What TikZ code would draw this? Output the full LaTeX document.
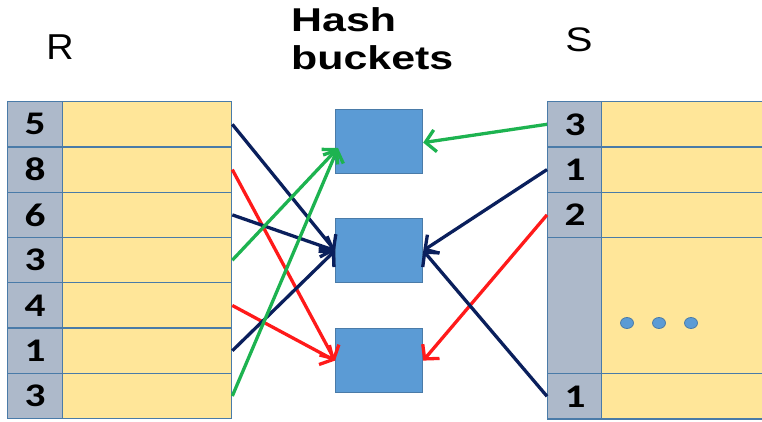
\documentclass[tikz,border=0pt]{standalone}
\usepackage{fontspec}
\setmainfont{Liberation Sans}
\newfontfamily\carlito{Carlito}
\usetikzlibrary{arrows.meta,shapes.geometric}
\definecolor{bordc}{HTML}{4A7BA8}
\definecolor{keyc}{HTML}{ADB9CA}
\definecolor{yelc}{HTML}{FFE699}
\definecolor{buckc}{HTML}{5B9BD5}
\definecolor{navyc}{HTML}{0A1F5C}
\definecolor{redc}{HTML}{FF1A1A}
\definecolor{greenc}{HTML}{1DB350}
\tikzset{
  cell/.style={draw=bordc, line width=1.3pt, inner sep=0pt, anchor=north west, minimum height=45.29pt},
  keycell/.style={cell, fill=keyc, minimum width=55pt, font=\carlito\bfseries\fontsize{33}{33}\selectfont},
  datacell/.style={cell, fill=yelc, minimum width=169pt},
  bucket/.style={draw=bordc, line width=1.2pt, fill=buckc, anchor=north west, minimum width=87pt, minimum height=64pt, inner sep=0pt},
  dotc/.style={draw=bordc, line width=0.8pt, fill=buckc, ellipse, minimum width=13pt, minimum height=11pt, inner sep=0pt},
  conn/.style={line width=3.3pt, -{Straight Barb[length=10pt,width=22pt,line width=3.3pt]}},
  title/.style={font=\fontsize{36}{36}\selectfont}
}
\newcommand{\dg}[1]{\scalebox{1.25}[1]{#1}}
\begin{document}
\begin{tikzpicture}[x=1pt,y=-1pt]
\useasboundingbox (0,0) rectangle (762,421);
% titles
\node[title] (tR) at (60,47) {\scalebox{1.05}[1]{R}};
\node[title, font=\fontsize{34}{34}\selectfont] (tS) at (579,40) {\scalebox{1.2}[1]{S}};
\node[font=\bfseries\fontsize{33}{38}\selectfont, align=left, anchor=north west, inner sep=0pt] (tH) at (291,7) {\scalebox{1.3}[1]{Hash}\\\scalebox{1.3}[1]{buckets}};
% R table
\foreach \k [count=\i] in {5,8,6,3,4,1,3} {
  \node[keycell] (rk\i) at (7,{101+(\i-1)*45.29}) {\dg{\k}};
  \node[datacell] (r\i) at (62,{101+(\i-1)*45.29}) {};
}
% S table
\node[keycell] (sk1) at (547,101) {\dg{3}};
\node[datacell, minimum width=164pt] (s1) at (601,101) {};
\node[keycell] (sk2) at (547,146.29) {\dg{1}};
\node[datacell, minimum width=164pt] (s2) at (601,146.29) {};
\node[keycell] (sk3) at (547,191.58) {\dg{2}};
\node[datacell, minimum width=164pt] (s3) at (601,191.58) {};
\node[keycell, minimum height=136.13pt] (sk4) at (547,236.87) {};
\node[datacell, minimum width=164pt, minimum height=136.13pt] (s4) at (601,236.87) {};
\node[keycell] (sk5) at (547,373) {\dg{1}};
\node[datacell, minimum width=164pt] (s5) at (601,373) {};
% dots
\node[dotc] (d1) at (627,323) {};
\node[dotc] (d2) at (659,323) {};
\node[dotc] (d3) at (691,323) {};
% buckets
\node[bucket] (b1) at (335,109) {};
\node[bucket] (b2) at (335,218) {};
\node[bucket] (b3) at (335,328) {};
\coordinate (b1in) at (338,148);
% connectors from R
\draw[conn, navyc] (r1.east) -- (b2.west);
\draw[conn, redc] (r2.east) -- (b3.west);
\draw[conn, navyc] (r3.east) -- (b2.west);
\draw[conn, greenc] (r4.east) -- (b1in);
\draw[conn, redc] (r5.east) -- (b3.west);
\draw[conn, navyc] (r6.east) -- (b2.west);
\draw[conn, greenc] (r7.east) -- (b1in);
% connectors from S
\draw[conn, greenc] (sk1.west) -- ([yshift=-1pt]b1.east);
\draw[conn, navyc] (sk2.west) -- (b2.east);
\draw[conn, redc] (sk3.west) -- (b3.east);
\draw[conn, navyc] (sk5.west) -- (b2.east);
\end{tikzpicture}
\end{document}
